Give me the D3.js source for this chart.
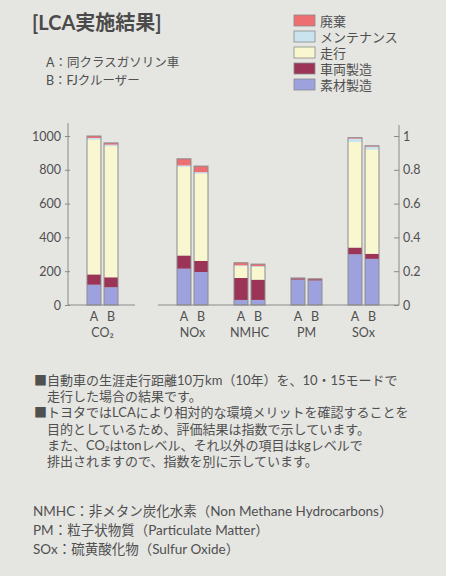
<!DOCTYPE html>
<html>
<head>
<meta charset="utf-8">
<script src="https://cdn.jsdelivr.net/npm/d3@7"></script>
<style>
  body { margin: 0; background: #fff; }
  svg text { font-family: Lato, "Noto Sans CJK JP", sans-serif; fill: #505050; }
</style>
</head>
<body>
<div id="chart"></div>
<script>
// categories
const groups = ["CO2", "NOx", "NMHC", "PM", "SOx"];
const groupLabels = ["CO₂", "NOx", "NMHC", "PM", "SOx"];
const cars = ["A", "B"];
const stages = ["素材製造", "車両製造", "走行", "メンテナンス", "廃棄"]; // bottom -> top

// values, order: CO2 A, CO2 B, NOx A, NOx B, NMHC A, NMHC B, PM A, PM B, SOx A, SOx B
// CO2 on the left axis (0-1000), the rest on the right index axis (0-1)
const materials   = [120, 105, 0.215, 0.195, 0.030, 0.030, 0.150, 0.145, 0.300, 0.273];
const vehicle     = [ 61,  59, 0.078, 0.066, 0.130, 0.120, 0.008, 0.008, 0.040, 0.030];
const driving     = [798, 776, 0.525, 0.517, 0.070, 0.075, 0.000, 0.000, 0.625, 0.617];
const maintenance = [  9,   9, 0.008, 0.008, 0.005, 0.005, 0.000, 0.000, 0.020, 0.017];
const disposal    = [ 12,  10, 0.039, 0.036, 0.015, 0.012, 0.002, 0.002, 0.005, 0.005];

const leftTicks = [0, 200, 400, 600, 800, 1000];
const rightTicks = [0, 0.2, 0.4, 0.6, 0.8, 1];

const stageColors = ["#9da2de", "#9b3457", "#f8f7cf", "#c9e4ef", "#ee6f72"];

const notes = [
    "■自動車の生涯走行距離10万km（10年）を、10・15モードで",
    "　走行した場合の結果です。",
    "■トヨタではLCAにより相対的な環境メリットを確認することを",
    "　目的としているため、評価結果は指数で示しています。",
    "　また、CO₂はtonレベル、それ以外の項目はkgレベルで",
    "　排出されますので、指数を別に示しています。"
];
const footnotes = [
    "NMHC：非メタン炭化水素（Non Methane Hydrocarbons）",
    "PM：粒子状物質（Particulate Matter）",
    "SOx：硫黄酸化物（Sulfur Oxide）"
];

const W = 449, H = 578;
const svg = d3.select("#chart").append("svg")
    .attr("width", W)
    .attr("height", H);

// paper background
svg.append("rect")
    .attr("x", 0).attr("y", 0)
    .attr("width", 446).attr("height", 576)
    .attr("fill", "#e5e5e2");

// title + legend
svg.append("text")
    .attr("x", 32).attr("y", 30)
    .style("font-size", "20px").style("font-weight", "bold")
    .style("fill", "#4a4a4a")
    .text("[LCA実施結果]");

svg.append("text").attr("x", 46).attr("y", 67)
    .style("font-size", "12.5px").text("A：同クラスガソリン車");
svg.append("text").attr("x", 46).attr("y", 85)
    .style("font-size", "12.5px").text("B：FJクルーザー");

const legend = svg.append("g").attr("class", "legend");
const legendItems = stages.slice().reverse();
legendItems.forEach((name, i) => {
    const color = stageColors[stages.indexOf(name)];
    const g = legend.append("g").attr("transform", "translate(294," + (15 + i * 16) + ")");
    g.append("rect")
        .attr("width", 21).attr("height", 11)
        .attr("fill", color)
        .attr("stroke", "#8a8a8a").attr("stroke-width", 0.8);
    g.append("text")
        .attr("x", 26).attr("y", 10.5)
        .style("font-size", "13px")
        .text(name);
});

// scales
const baseY = 305, topY = 136;
const yLeft = d3.scaleLinear().domain([0, 1000]).range([baseY, topY]);
const yRight = d3.scaleLinear().domain([0, 1]).range([baseY, topY]);
const xLeft = d3.scaleBand().domain(["CO2"]).range([68, 137]);
const xRight = d3.scaleBand().domain(groups.slice(1)).range([164, 392]);
const xCar = d3.scaleBand().domain(cars).range([-15.5, 15.5]).paddingInner(0.18);

const groupCenter = g => g === "CO2" ? xLeft(g) + xLeft.bandwidth() / 2 : xRight(g) + xRight.bandwidth() / 2;
const yFor = g => g === "CO2" ? yLeft : yRight;

// build stacked data
const series = [materials, vehicle, driving, maintenance, disposal];
const bars = [];
groups.forEach((g, gi) => {
    cars.forEach((c, ci) => {
        const idx = gi * 2 + ci;
        let acc = 0;
        const segs = series.map((s, si) => {
            const seg = {stage: si, y0: acc, y1: acc + s[idx]};
            acc += s[idx];
            return seg;
        });
        bars.push({group: g, car: c, segs: segs, total: acc});
    });
});

const plot = svg.append("g").attr("class", "plot");

const barG = plot.selectAll(".barG")
    .data(bars)
    .join("g")
    .attr("class", "barG")
    .attr("transform", d => "translate(" + (groupCenter(d.group) + xCar(d.car)) + ",0)");

barG.selectAll(".seg")
    .data(d => d.segs.filter(s => s.y1 > s.y0).map(s => Object.assign({group: d.group}, s)))
    .join("rect")
    .attr("class", "seg")
    .attr("x", 0)
    .attr("width", xCar.bandwidth())
    .attr("y", s => yFor(s.group)(s.y1))
    .attr("height", s => yFor(s.group)(s.y0) - yFor(s.group)(s.y1))
    .attr("fill", s => stageColors[s.stage]);

barG.append("rect")
    .attr("class", "outline")
    .attr("x", 0)
    .attr("width", xCar.bandwidth())
    .attr("y", d => yFor(d.group)(d.total))
    .attr("height", d => baseY - yFor(d.group)(d.total))
    .attr("fill", "none")
    .attr("stroke", "#8c8c8c")
    .attr("stroke-width", 1);

// axes
const axisColor = "#8a8a8a";
const leftAxis = plot.append("g")
    .attr("class", "yAxisLeft")
    .attr("transform", "translate(68,0)")
    .call(d3.axisLeft(yLeft).tickValues(leftTicks).tickFormat(d3.format("d")).tickSize(3).tickPadding(4));
const rightAxis = plot.append("g")
    .attr("class", "yAxisRight")
    .attr("transform", "translate(399,0)")
    .call(d3.axisRight(yRight).tickValues(rightTicks).tickFormat(d3.format("~g")).tickSize(0).tickPadding(4));

[leftAxis, rightAxis].forEach(ax => {
    ax.select(".domain").remove();
    ax.selectAll(".tick text").style("font-size", "12.5px").attr("fill", null);
});
leftAxis.selectAll(".tick line").attr("x1", 2).attr("stroke", axisColor);
rightAxis.selectAll(".tick line").attr("x1", -5).attr("x2", 0).attr("stroke", axisColor);

plot.append("line").attr("x1", 68).attr("x2", 68).attr("y1", 123).attr("y2", baseY)
    .attr("stroke", axisColor);
plot.append("line").attr("x1", 399).attr("x2", 399).attr("y1", 125).attr("y2", baseY)
    .attr("stroke", axisColor);
plot.append("line").attr("x1", 68).attr("x2", 135).attr("y1", baseY).attr("y2", baseY)
    .attr("stroke", axisColor);
plot.append("line").attr("x1", 158).attr("x2", 399).attr("y1", baseY).attr("y2", baseY)
    .attr("stroke", axisColor);

// category labels
const catG = plot.selectAll(".catG")
    .data(groups)
    .join("g")
    .attr("class", "catG")
    .attr("transform", g => "translate(" + groupCenter(g) + ",0)");
catG.selectAll(".carLabel")
    .data(g => cars.map(c => ({g: g, c: c})))
    .join("text")
    .attr("class", "carLabel")
    .attr("x", d => xCar(d.c) + xCar.bandwidth() / 2)
    .attr("y", 321)
    .attr("text-anchor", "middle")
    .style("font-size", "12.5px")
    .text(d => d.c);
catG.append("text")
    .attr("y", 337)
    .attr("text-anchor", "middle")
    .style("font-size", "12.5px")
    .text((g, i) => groupLabels[i]);

// notes
svg.selectAll(".note")
    .data(notes)
    .join("text")
    .attr("class", "note")
    .attr("x", 34)
    .attr("y", (d, i) => 385 + i * 16.2)
    .style("font-size", "13px")
    .text(d => d);

svg.selectAll(".foot")
    .data(footnotes)
    .join("text")
    .attr("class", "foot")
    .attr("x", 33)
    .attr("y", (d, i) => 516 + i * 19)
    .style("font-size", "13.5px")
    .text(d => d);
</script>
</body>
</html>
